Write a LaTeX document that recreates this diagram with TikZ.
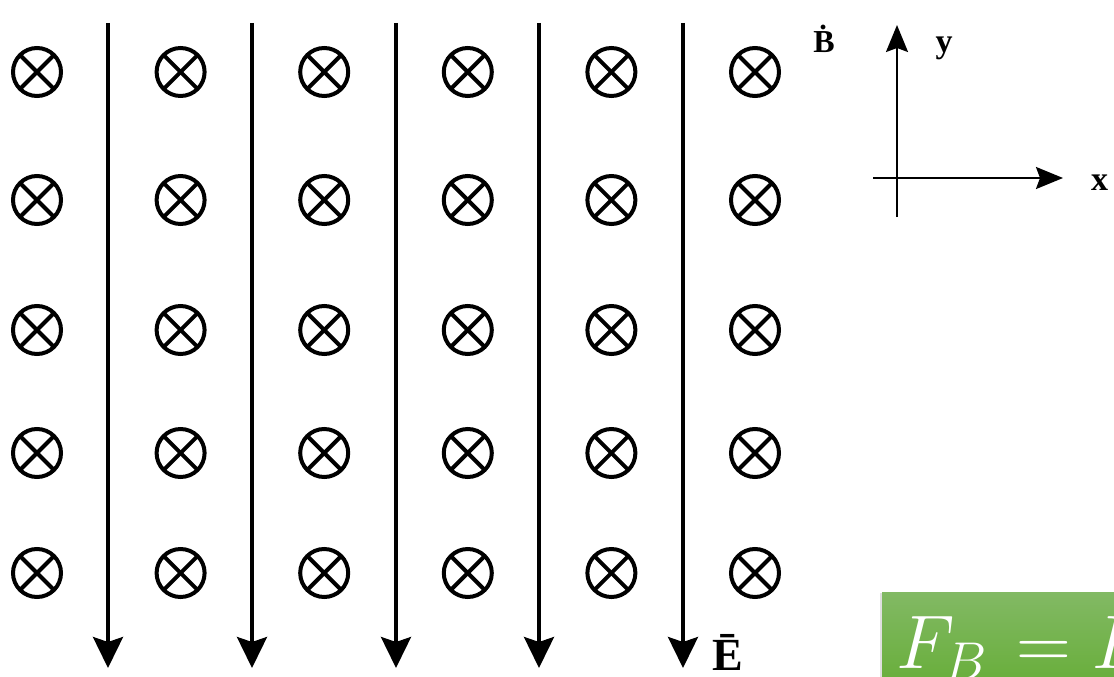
\RequirePackage{fix-cm}
\documentclass[tikz,border=0pt]{standalone}
\usepackage{fontspec}
\setmainfont{Liberation Serif}
\usetikzlibrary{arrows.meta,shadows,calc}
\definecolor{gtop}{HTML}{82B964}
\definecolor{gbot}{HTML}{68AE3A}
\begin{document}
\begin{tikzpicture}[x=1pt,y=-1pt,
  bsym/.style={line width=4pt},
  fieldline/.style={line width=3.6pt,-{Stealth[length=31pt,width=30pt,inset=5pt]}},
  axis/.style={line width=2pt,-{Stealth[length=27pt,width=22pt,inset=4pt]}},
  lbl/.style={inner sep=0pt,font=\bfseries}]
\useasboundingbox (0,0) rectangle (1114,677);
% B symbols
\foreach \i in {0,...,5}{
  \foreach \r/\yy in {1/72,2/200,3/330,4/453,5/573}{
    \pgfmathsetmacro{\xx}{37+143.6*\i}
    \coordinate (s\i\r) at (\xx,\yy);
    \draw[bsym] (s\i\r) circle[radius=24];
    \draw[bsym] ($(s\i\r)+(-17,-17)$) -- ($(s\i\r)+(17,17)$);
    \draw[bsym] ($(s\i\r)+(-17,17)$) -- ($(s\i\r)+(17,-17)$);
  }
}
% field lines
\foreach \k/\xx in {1/108,2/252,3/396,4/539,5/683}{
  \coordinate (t\k) at (\xx,23);
  \coordinate (b\k) at (\xx,668);
  \draw[fieldline] (t\k) -- (b\k);
}
% labels
\node[lbl,font=\bfseries\fontsize{32}{32}\selectfont,anchor=base] (B) at (824,53) {\.B};
\node[lbl,font=\bfseries\fontsize{46}{46}\selectfont,anchor=base] (E) at (728,670) {\=E};
% axes
\coordinate (o) at (897,178);
\coordinate (ybot) at (897,217);
\coordinate (ytop) at (897,25);
\coordinate (xleft) at (873,178);
\coordinate (xright) at (1063,178);
\draw[axis] (ybot) -- (ytop);
\draw[axis] (xleft) -- (xright);
\node[lbl,font=\bfseries\fontsize{34}{34}\selectfont] (ylab) at (944,48) {y};
\node[lbl,font=\bfseries\fontsize{34}{34}\selectfont,anchor=west] (xlab) at (1091,183) {x};
% green box
\node[draw=none,top color=gtop,bottom color=gbot,minimum width=240pt,minimum height=92pt,anchor=north west,inner sep=0pt,
  drop shadow={shadow xshift=-2pt,shadow yshift=-1pt,opacity=0.25}] (box) at (882,592) {};
\node[anchor=base west,inner sep=0pt,text=white,font=\fontsize{76}{76}\selectfont] (eq) at (896,668) {$F_B\mkern2mu = I$};
\end{tikzpicture}
\end{document}
